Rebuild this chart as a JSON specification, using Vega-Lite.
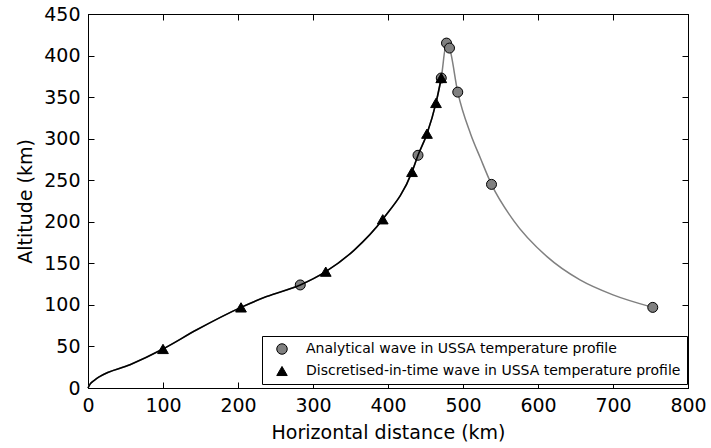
{
  "$schema": "https://vega.github.io/schema/vega-lite/v6.json",
  "width": 600,
  "height": 374,
  "autosize": {"type": "none"},
  "padding": {"left": 88, "top": 14, "right": 23, "bottom": 60},
  "background": "white",
  "config": {
    "view": {"stroke": "black", "strokeWidth": 1},
    "font": "DejaVu Sans",
    "axis": {
      "domainColor": "black", "domainWidth": 1,
      "tickColor": "black", "tickSize": -6, "tickWidth": 1,
      "grid": false,
      "labelFont": "DejaVu Sans", "labelFontSize": 19, "labelColor": "black",
      "labelPadding": 14, "labelFlush": false, "labelOverlap": false,
      "titleFont": "DejaVu Sans", "titleFontSize": 19, "titleFontWeight": "normal", "titleColor": "black",
      "titlePadding": 8
    },
    "legend": {
      "orient": "none", "legendX": 174, "legendY": 322,
      "strokeColor": "black", "strokeWidth": 1, "fillColor": "white",
      "padding": 6, "cornerRadius": 0,
      "labelFont": "DejaVu Sans", "labelFontSize": 14, "labelColor": "black",
      "symbolSize": 110, "symbolStrokeColor": "black", "symbolStrokeWidth": 1,
      "labelOffset": 17, "symbolOffset": 7, "rowPadding": 7, "labelLimit": 0
    }
  },
  "datasets": {
    "analyticalCurve": [
      {"x": 0, "y": 0}, {"x": 3, "y": 5}, {"x": 8, "y": 9}, {"x": 16, "y": 14}, {"x": 56, "y": 28},
      {"x": 100, "y": 47}, {"x": 145, "y": 70}, {"x": 204, "y": 97}, {"x": 238, "y": 110},
      {"x": 283, "y": 124}, {"x": 317, "y": 140}, {"x": 355, "y": 166}, {"x": 393, "y": 203},
      {"x": 432, "y": 260}, {"x": 440, "y": 280}, {"x": 452, "y": 306}, {"x": 464, "y": 343},
      {"x": 471, "y": 373}, {"x": 478, "y": 415}, {"x": 482, "y": 409}, {"x": 493, "y": 356},
      {"x": 510, "y": 306}, {"x": 523, "y": 277}, {"x": 538, "y": 245}, {"x": 567, "y": 202},
      {"x": 612, "y": 158}, {"x": 656, "y": 130}, {"x": 700, "y": 112}, {"x": 753, "y": 97}
    ],
    "discretisedCurve": [
      {"x": 0, "y": 0}, {"x": 3, "y": 5}, {"x": 8, "y": 9}, {"x": 16, "y": 14}, {"x": 56, "y": 28},
      {"x": 100, "y": 47}, {"x": 145, "y": 70}, {"x": 204, "y": 97}, {"x": 238, "y": 110},
      {"x": 283, "y": 124}, {"x": 317, "y": 140}, {"x": 355, "y": 166}, {"x": 393, "y": 203},
      {"x": 432, "y": 260}, {"x": 440, "y": 280}, {"x": 452, "y": 306}, {"x": 464, "y": 343},
      {"x": 471, "y": 373}
    ],
    "analyticalMarkers": [
      {"series": "Analytical wave in USSA temperature profile", "x": 283, "y": 124},
      {"series": "Analytical wave in USSA temperature profile", "x": 440, "y": 280},
      {"series": "Analytical wave in USSA temperature profile", "x": 471, "y": 373},
      {"series": "Analytical wave in USSA temperature profile", "x": 478, "y": 415},
      {"series": "Analytical wave in USSA temperature profile", "x": 482, "y": 409},
      {"series": "Analytical wave in USSA temperature profile", "x": 493, "y": 356},
      {"series": "Analytical wave in USSA temperature profile", "x": 538, "y": 245},
      {"series": "Analytical wave in USSA temperature profile", "x": 753, "y": 97}
    ],
    "discretisedMarkers": [
      {"series": "Discretised-in-time wave in USSA temperature profile", "x": 100, "y": 47},
      {"series": "Discretised-in-time wave in USSA temperature profile", "x": 204, "y": 97},
      {"series": "Discretised-in-time wave in USSA temperature profile", "x": 317, "y": 140},
      {"series": "Discretised-in-time wave in USSA temperature profile", "x": 393, "y": 203},
      {"series": "Discretised-in-time wave in USSA temperature profile", "x": 432, "y": 260},
      {"series": "Discretised-in-time wave in USSA temperature profile", "x": 452, "y": 306},
      {"series": "Discretised-in-time wave in USSA temperature profile", "x": 464, "y": 343},
      {"series": "Discretised-in-time wave in USSA temperature profile", "x": 471, "y": 373}
    ]
  },
  "layer": [
    {
      "data": {"name": "analyticalCurve"},
      "mark": {"type": "line", "color": "#808080", "strokeWidth": 1.5, "interpolate": "monotone"},
      "encoding": {
        "x": {"field": "x", "type": "quantitative", "scale": {"domain": [0, 800], "nice": false},
              "axis": {"orient": "bottom", "title": "Horizontal distance (km)", "values": [0, 100, 200, 300, 400, 500, 600, 700, 800]}},
        "y": {"field": "y", "type": "quantitative", "scale": {"domain": [0, 450], "nice": false},
              "axis": {"orient": "left", "title": "Altitude (km)", "values": [0, 50, 100, 150, 200, 250, 300, 350, 400, 450]}}
      }
    },
    {
      "data": {"name": "analyticalMarkers"},
      "mark": {"type": "point", "filled": true, "stroke": "black", "strokeWidth": 1, "opacity": 1, "size": 100},
      "encoding": {
        "x": {"field": "x", "type": "quantitative", "axis": null},
        "y": {"field": "y", "type": "quantitative", "axis": null},
        "color": {"field": "series", "type": "nominal",
                  "scale": {"domain": ["Analytical wave in USSA temperature profile", "Discretised-in-time wave in USSA temperature profile"], "range": ["#808080", "black"]},
                  "legend": {"title": null}},
        "shape": {"field": "series", "type": "nominal",
                  "scale": {"domain": ["Analytical wave in USSA temperature profile", "Discretised-in-time wave in USSA temperature profile"], "range": ["circle", "triangle-up"]},
                  "legend": {"title": null}}
      }
    },
    {
      "data": {"name": "discretisedCurve"},
      "mark": {"type": "line", "color": "black", "strokeWidth": 1.6, "interpolate": "monotone"},
      "encoding": {
        "x": {"field": "x", "type": "quantitative",
              "axis": {"orient": "top", "title": null, "labels": false, "values": [0, 100, 200, 300, 400, 500, 600, 700, 800]}},
        "y": {"field": "y", "type": "quantitative",
              "axis": {"orient": "right", "title": null, "labels": false, "values": [0, 50, 100, 150, 200, 250, 300, 350, 400, 450]}}
      }
    },
    {
      "data": {"name": "discretisedMarkers"},
      "mark": {"type": "point", "filled": true, "stroke": "black", "strokeWidth": 1, "opacity": 1, "size": 115},
      "encoding": {
        "x": {"field": "x", "type": "quantitative", "axis": null},
        "y": {"field": "y", "type": "quantitative", "axis": null},
        "color": {"field": "series", "type": "nominal", "legend": {"title": null}},
        "shape": {"field": "series", "type": "nominal", "legend": {"title": null}}
      }
    }
  ]
}
